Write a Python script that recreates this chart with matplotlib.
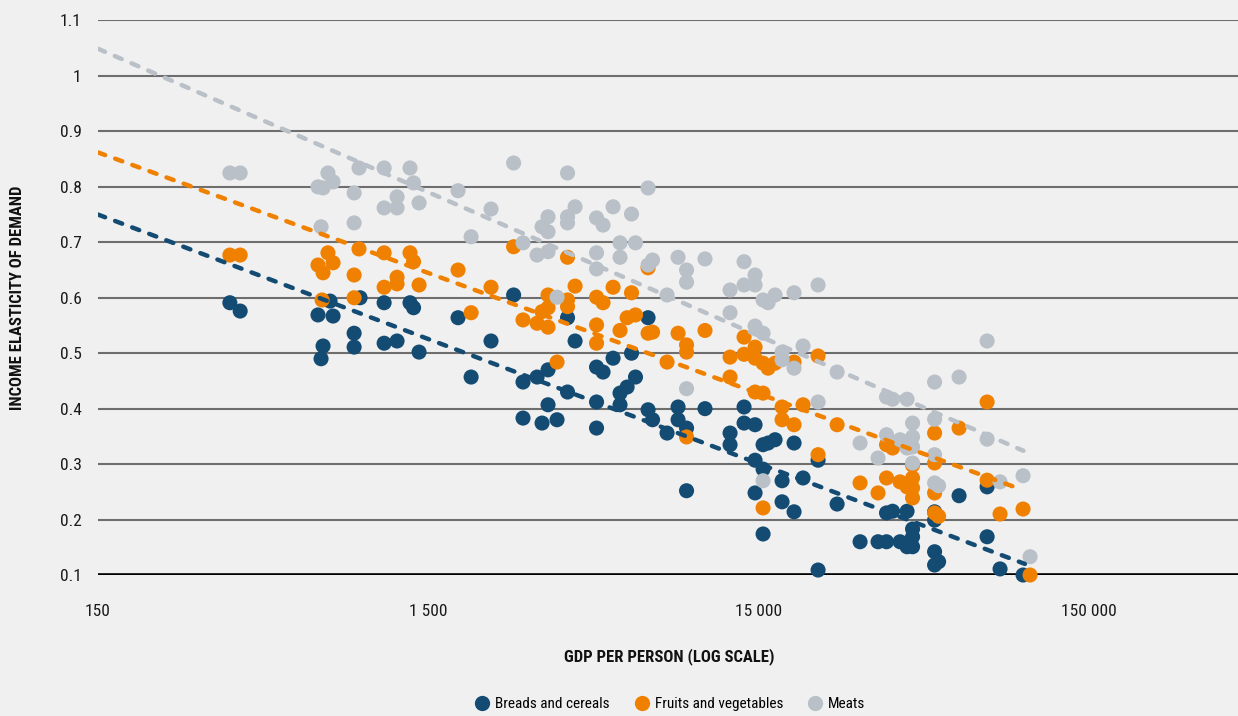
import matplotlib
matplotlib.use("Agg")
import matplotlib.pyplot as plt
from matplotlib.lines import Line2D

plt.rcParams['font.family'] = ['Roboto Condensed', 'Open Sans Condensed', 'DejaVu Sans']
plt.rcParams['font.stretch'] = 'condensed'

# Income elasticity of demand by GDP per person (USD)
breads_gdp = [376, 404, 695, 710, 720, 756, 772, 894, 894, 932, 1102, 1102, 1206, 1320, 1353,
              1406, 1845, 2021, 2322, 2718, 2902, 2902, 3201, 3314, 3455, 3455, 3679, 3958,
              3958, 4172, 4845, 4845, 4845, 5070, 5437, 5707, 5707, 5996, 6183, 6357, 6939,
              6939, 7160, 7922, 8553, 8553, 9074, 9074, 10320, 12290, 12290, 13550, 13550,
              14630, 14630, 14630, 15470, 15470, 15470, 16020, 16820, 17660, 17660, 19200,
              19200, 20440, 22700, 22700, 25920, 30420, 34480, 36580, 36580, 38150, 40200,
              42210, 42210, 43860, 43860, 43860, 51140, 51140, 51140, 51140, 52590, 60660,
              73760, 73760, 80720, 94760]
breads_elasticity = [0.591, 0.576, 0.569, 0.490, 0.513, 0.594, 0.567, 0.536, 0.511, 0.600,
                     0.591, 0.518, 0.522, 0.591, 0.582, 0.502, 0.564, 0.457, 0.522, 0.605,
                     0.448, 0.383, 0.457, 0.374, 0.470, 0.407, 0.380, 0.564, 0.430, 0.522,
                     0.475, 0.412, 0.365, 0.466, 0.491, 0.428, 0.407, 0.439, 0.500, 0.457,
                     0.564, 0.398, 0.380, 0.356, 0.403, 0.380, 0.365, 0.252, 0.400, 0.356,
                     0.335, 0.403, 0.374, 0.371, 0.307, 0.248, 0.335, 0.291, 0.174, 0.338,
                     0.344, 0.270, 0.232, 0.338, 0.214, 0.275, 0.307, 0.109, 0.228, 0.160,
                     0.160, 0.160, 0.212, 0.215, 0.160, 0.215, 0.151, 0.151, 0.183, 0.169,
                     0.214, 0.199, 0.142, 0.118, 0.124, 0.243, 0.259, 0.169, 0.111, 0.100]

fruits_gdp = [376, 404, 695, 715, 720, 745, 772, 894, 894, 925, 1102, 1102, 1206, 1206, 1320,
              1353, 1406, 1845, 2021, 2322, 2718, 2902, 3201, 3314, 3455, 3455, 3455, 3679,
              3958, 3958, 3958, 4172, 4845, 4845, 4845, 5070, 5437, 5707, 5996, 6183, 6357,
              6939, 6939, 7160, 7922, 8553, 9074, 9074, 9074, 10320, 12290, 12290, 13550,
              13550, 14630, 14630, 14630, 15470, 15470, 15470, 16020, 16820, 17660, 17660,
              19200, 19200, 20440, 22700, 22700, 25920, 30420, 34480, 36580, 36580, 38150,
              40200, 42210, 43860, 43860, 43860, 43860, 51140, 51140, 51140, 51140, 52590,
              60660, 73760, 73760, 80720, 94760, 99500]
fruits_elasticity = [0.677, 0.677, 0.659, 0.596, 0.645, 0.681, 0.663, 0.641, 0.600, 0.688,
                     0.681, 0.619, 0.637, 0.625, 0.681, 0.665, 0.623, 0.650, 0.573, 0.619,
                     0.692, 0.560, 0.554, 0.575, 0.605, 0.582, 0.547, 0.484, 0.673, 0.596,
                     0.584, 0.621, 0.601, 0.551, 0.518, 0.591, 0.619, 0.541, 0.564, 0.609,
                     0.569, 0.654, 0.536, 0.538, 0.484, 0.536, 0.515, 0.502, 0.349, 0.541,
                     0.493, 0.457, 0.498, 0.529, 0.511, 0.491, 0.430, 0.482, 0.428, 0.221,
                     0.473, 0.482, 0.403, 0.380, 0.484, 0.371, 0.407, 0.495, 0.317, 0.371,
                     0.266, 0.248, 0.335, 0.275, 0.329, 0.268, 0.259, 0.298, 0.275, 0.257,
                     0.239, 0.356, 0.302, 0.248, 0.212, 0.206, 0.365, 0.412, 0.271, 0.210,
                     0.219, 0.100]

meats_gdp = [376, 404, 695, 710, 720, 745, 772, 894, 894, 925, 1102, 1102, 1206, 1206, 1320,
             1353, 1406, 1845, 2021, 2322, 2718, 2902, 3201, 3314, 3455, 3455, 3455, 3679,
             3958, 3958, 3958, 4172, 4845, 4845, 4845, 5070, 5437, 5707, 5707, 6183, 6357,
             6939, 6939, 7160, 7922, 8553, 9074, 9074, 9074, 10320, 12290, 12290, 13550,
             13550, 14630, 14630, 14630, 15470, 15470, 15470, 16020, 16820, 17660, 17660,
             19200, 19200, 20440, 22700, 22700, 25920, 30420, 34480, 36580, 36580, 38150,
             40200, 42210, 42210, 43860, 43860, 43860, 43860, 51140, 51140, 51140, 51140,
             52590, 60660, 73760, 73760, 80720, 94760, 99500]
meats_elasticity = [0.825, 0.825, 0.800, 0.728, 0.798, 0.825, 0.809, 0.789, 0.735, 0.834,
                    0.834, 0.762, 0.782, 0.762, 0.834, 0.807, 0.771, 0.793, 0.710, 0.760,
                    0.843, 0.699, 0.677, 0.728, 0.683, 0.746, 0.719, 0.601, 0.825, 0.746,
                    0.735, 0.764, 0.744, 0.681, 0.652, 0.731, 0.764, 0.673, 0.699, 0.751,
                    0.699, 0.798, 0.659, 0.668, 0.605, 0.673, 0.650, 0.628, 0.436, 0.670,
                    0.614, 0.573, 0.665, 0.623, 0.641, 0.623, 0.549, 0.596, 0.536, 0.270,
                    0.591, 0.605, 0.502, 0.488, 0.609, 0.473, 0.513, 0.623, 0.412, 0.466,
                    0.338, 0.311, 0.421, 0.353, 0.417, 0.344, 0.417, 0.329, 0.374, 0.349,
                    0.331, 0.302, 0.448, 0.381, 0.317, 0.266, 0.261, 0.457, 0.522, 0.345,
                    0.268, 0.279, 0.133]

# Log-linear trend lines (endpoints)
breads_trend_gdp = [150, 96000]
breads_trend = [0.750, 0.120]
fruits_trend_gdp = [150, 91000]
fruits_trend = [0.862, 0.257]
meats_trend_gdp = [150, 95000]
meats_trend = [1.049, 0.324]

series_names = ["Breads and cereals", "Fruits and vegetables", "Meats"]
colors = ["#144B73", "#F08100", "#B9C0C7"]

y_ticks = [0.1, 0.2, 0.3, 0.4, 0.5, 0.6, 0.7, 0.8, 0.9, 1.0, 1.1]
y_tick_labels = ["0.1", "0.2", "0.3", "0.4", "0.5", "0.6", "0.7", "0.8", "0.9", "1", "1.1"]
x_ticks = [150, 1500, 15000, 150000]
x_tick_labels = ["150", "1 500", "15 000", "150 000"]

bg = "#F0F0F0"
fig = plt.figure(figsize=(12.38, 7.16), dpi=100, facecolor=bg)
ax = fig.add_axes([0.0792, 0.1969, 0.9208, 0.7745], facecolor=bg)
ax.set_xscale("log")
ax.set_xlim(150, 424000)
ax.set_ylim(0.1, 1.1)

for y in y_ticks[1:]:
    ax.axhline(y, color="#6E6E6E", lw=1.5, zorder=1)
ax.axhline(0.1, color="black", lw=2.6, zorder=2)

groups = [(breads_gdp, breads_elasticity), (fruits_gdp, fruits_elasticity), (meats_gdp, meats_elasticity)]
for i, (gx, gy) in enumerate(groups):
    ax.scatter(gx, gy, s=118, color=colors[i], edgecolors="none", zorder=3 + i, clip_on=False)

trends = [(breads_trend_gdp, breads_trend), (fruits_trend_gdp, fruits_trend), (meats_trend_gdp, meats_trend)]
for i, (tx, ty) in enumerate(trends):
    ln, = ax.plot(tx, ty, color=colors[i], lw=3.2, zorder=7)
    ln.set_dashes((1.7, 2.4))
    ln.set_dash_capstyle("round")

for s in ax.spines.values():
    s.set_visible(False)
ax.set_yticks(y_ticks)
ax.set_yticklabels(y_tick_labels)
ax.set_xticks(x_ticks)
ax.set_xticklabels(x_tick_labels)
ax.minorticks_off()
ax.tick_params(axis="both", length=0, labelsize=12.5, labelcolor="#1a1a1a")
ax.tick_params(axis="y", pad=12)
ax.tick_params(axis="x", pad=21)

fig.text(0.0145, 0.5845, "INCOME ELASTICITY OF DEMAND", rotation=90, ha="center", va="center",
         fontsize=12, fontweight="bold", color="#111111")
fig.text(0.5404, 0.0824, "GDP PER PERSON (LOG SCALE)", ha="center", va="center",
         fontsize=12, fontweight="bold", color="#111111")

handles = [Line2D([], [], marker="o", linestyle="none", markersize=11, markerfacecolor=c,
                  markeredgecolor="none") for c in colors]
fig.legend(handles, series_names, loc="center", bbox_to_anchor=(0.541, 0.0165), ncol=3,
           frameon=False, fontsize=11, handletextpad=0.35, columnspacing=1.6, handlelength=1.0)

fig.savefig("out.png", dpi=100, facecolor=bg)
